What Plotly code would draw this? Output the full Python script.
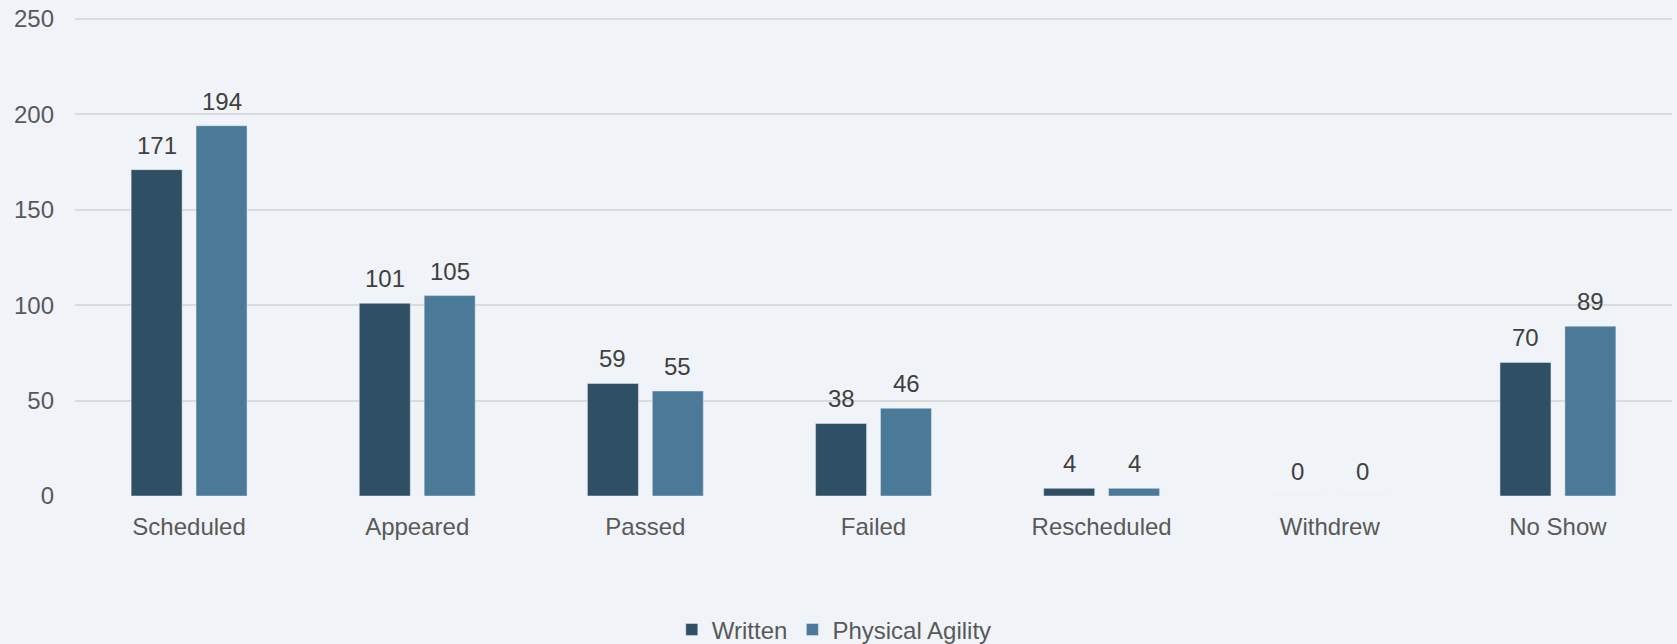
import plotly.graph_objects as go

categories = ["Scheduled", "Appeared", "Passed", "Failed", "Rescheduled", "Withdrew", "No Show"]
written = [171, 101, 59, 38, 4, 0, 70]
physical = [194, 105, 55, 46, 4, 0, 89]
series_names = ["Written", "Physical Agility"]
y_ticks = [0, 50, 100, 150, 200, 250]

BG = "#f0f4f8"
C_WRITTEN = "#2f5064"
C_PHYS = "#4a7a98"
FONT = "Liberation Sans, Arial, sans-serif"
FS = 24

fig = go.Figure()
fig.add_trace(go.Bar(name=series_names[0], x=categories, y=written, marker_color=C_WRITTEN))
fig.add_trace(go.Bar(name=series_names[1], x=categories, y=physical, marker_color=C_PHYS))

slot_px = 65
for vals, shift in ((written, -slot_px / 2), (physical, slot_px / 2)):
    for c, v in zip(categories, vals):
        fig.add_annotation(x=c, y=v, xref="x", yref="y", text=str(v), showarrow=False,
                           xshift=shift, yshift=9, yanchor="bottom",
                           font=dict(family=FONT, size=FS, color="#404040"))

fig.update_layout(
    width=1677, height=644,
    paper_bgcolor=BG, plot_bgcolor=BG,
    margin=dict(l=75, r=5, t=16, b=148, autoexpand=False),
    barmode="group", bargap=0.431, bargroupgap=0.214,
    font=dict(family=FONT, size=FS, color="#595959"),
    showlegend=True,
    legend=dict(orientation="h", xref="container", x=0.4975, xanchor="center",
                y=-0.279, yanchor="middle",
                font=dict(family=FONT, size=FS, color="#595959"), bgcolor="rgba(0,0,0,0)",
                traceorder="normal", itemwidth=30),
)
fig.update_xaxes(showgrid=False, showline=False, zeroline=False, ticks="",
                 ticklabelstandoff=14, tickfont=dict(size=FS, color="#595959"))
fig.update_yaxes(range=[0, 251.5], tickvals=y_ticks, showgrid=True, gridcolor="#d9dcdf", gridwidth=2,
                 zeroline=False, showline=False, ticks="", ticklabelstandoff=20,
                 tickfont=dict(size=FS, color="#595959"))

fig.write_html("out.html", config={"displayModeBar": False},
               post_script="document.body.style.margin='0';document.body.style.background='#f0f4f8';")
